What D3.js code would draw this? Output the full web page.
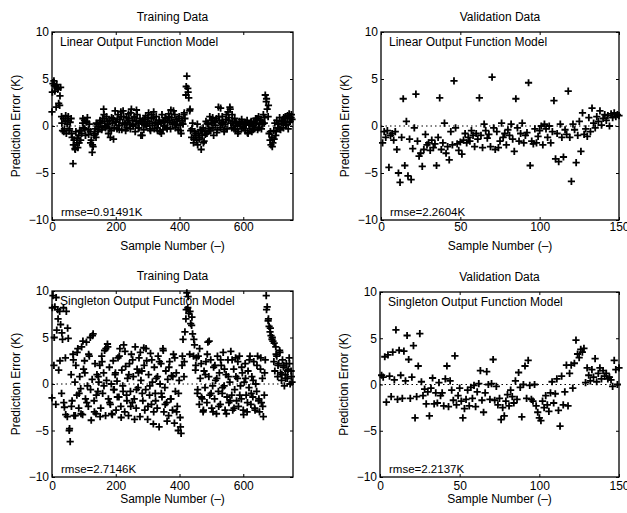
<!DOCTYPE html>
<html>
<head>
<meta charset="utf-8">
<script src="https://cdn.jsdelivr.net/npm/d3@7"></script>
<style>
  html, body { margin: 0; padding: 0; background: #fff; }
  svg text { font-family: "Liberation Sans", Arial, Helvetica, sans-serif; fill: #000; }
</style>
</head>
<body>
<svg id="chart" width="627" height="513"></svg>
<script>
// ---------------- data ----------------
const yTicks = [-10, -5, 0, 5, 10];
const trainXTicks = [0, 200, 400, 600];
const validXTicks = [0, 50, 100, 150];
const trainXMax = 756;
const validXMax = 150;

const titles = ["Training Data", "Validation Data", "Training Data", "Validation Data"];
const modelNames = ["Linear Output Function Model", "Linear Output Function Model",
                    "Singleton Output Function Model", "Singleton Output Function Model"];
const rmseLabels = ["rmse=0.91491K", "rmse=2.2604K", "rmse=2.7146K", "rmse=2.2137K"];

// Linear model, training data: samples 0,3,6,...
const trainLinearErr = [
  1.5, 4.5, 4.8, 3.7, 4.2, 4.4, 3.9, 2.4, 2.2, 4.1, 1.0, -0.5,
  0.8, -0.3, 0.5, -0.8, 0.2, 1.0, -0.5, 0.4, 0.8,
  -1.2, -4.0, -1.5, -2.4, -0.6, -1.8, -2.3, -1.0, -0.5, -1.5,
  -0.8, 0.3, -0.2, 0.6, -1.0, 0.5, 0.9, -0.4, 0.2, -0.6,
  -1.5, -2.8, -2.2, -1.0, -0.3, -1.2, 0.2, -0.6, -0.1, 0.4,
  0.3, -0.4, 0.8, 1.8, 0.5, -0.2, 1.0, 0.2, -0.8, 0.6,
  -1.2, -0.5, 0.3, 0.8, -0.2, 1.6, 0.5, -0.3, 1.2, 0.1,
  0.7, 1.5, -0.4, 0.3, 1.0, 0.2, -0.5, 0.9, 0.4, 1.3,
  0.2, -0.3, 1.8, 0.6, 0.0, 0.9, -0.6, 0.5, 1.2, 0.3,
  -0.2, 0.8, -1.0, 0.3, 0.6, -0.4, 0.2, 1.1, 0.0, 0.5,
  1.4, 0.3, -0.5, 0.8, 0.1, 0.9, -0.3, 0.4, 1.0, -0.2,
  0.2, 0.6, -0.6, 0.3, 1.2, -0.4, 0.5, 0.0, 0.8, -0.2,
  0.4, 1.3, 0.6, -0.3, 0.9, 0.2, 1.6, 0.3, -0.2, 0.7,
  0.5, -0.4, 1.0, 0.1, -0.8, 0.6, 0.2, 1.2, 0.8, 3.3,
  5.3, 4.0, 3.0, 1.6, -0.5, -1.2, 0.3, -1.8, -0.6, -1.0,
  -1.5, 0.2, -0.8, -1.4, -0.4, -2.5, -1.0, -0.2, -1.6, -0.6,
  0.5, -0.8, 0.2, -0.3, 1.0, -0.5, 0.3, 0.9, -1.0, 0.4,
  0.1, 0.8, -0.4, 2.0, 0.6, -0.2, 0.3, 1.0, 0.4, -0.6,
  0.2, 0.7, -0.3, 1.5, 0.9, 2.0, 0.3, -0.2, 0.5, 0.1,
  0.8, -0.4, 0.3, 0.0, -0.6, 0.5, 0.2, -0.3, 0.4, -0.1,
  0.3, -0.5, 0.1, 0.6, -0.8, 0.2, -0.3, 0.4, -0.6, 0.0,
  0.5, -0.2, 0.8, 0.3, -0.4, 1.0, 0.2, 0.6, -0.3, 0.4,
  1.2, 0.3, 3.3, 2.6, 1.8, 1.0, -0.8, -1.5, -2.0, -1.2,
  -1.8, -0.5, 0.3, -1.0, 0.6, -0.2, 0.2, 0.9, -0.4, 0.3,
  0.6, -0.2, 0.4, 1.0, 0.2, 0.8, -0.3, 1.3, 0.5, 0.9, 0.7
];
// Linear model, training data: samples 1,7,13,...
const trainLinearErrB = [
  3.6, 4.3, 2.0, 4.0, 3.2, 0.3, -0.6, 1.1, 0.6, -0.3,
  -0.8, -2.0, -2.5, -1.3, -1.8, -0.5, 0.8, -0.3, 0.4, -0.9,
  -1.8, -2.0, -0.8, 0.3, -0.4, 0.6, -0.2, 1.2, 0.0, 0.5,
  -0.3, 0.9, -1.4, 0.4, 0.7, -0.4, 1.0, 1.6, 0.3, -0.2,
  0.8, 1.4, 0.2, 1.0, 1.7, -0.2, 0.5, -1.0, 0.7, 0.1,
  0.9, -0.3, 1.2, 1.5, 0.3, -0.5, 0.6, -0.8, 0.4, 0.9,
  -0.3, 1.0, 1.7, 0.4, 1.2, 0.2, 0.8, -0.5, 0.3, 1.4,
  4.2, 3.6, 1.8, -0.3, -1.4, -0.8, -2.0, -1.2, -0.5, -1.8,
  -0.9, 0.3, -0.5, 0.6, -0.2, 0.5, -0.7, 1.0, 1.9, 0.2,
  -0.4, 1.2, 0.6, 1.8, 1.2, -0.3, 0.4, -0.8, 0.2, 0.7,
  -0.2, 0.4, -0.7, 0.1, 0.5, -0.4, 0.3, 0.8, -0.2, 0.6,
  0.2, 0.9, 2.9, 2.2, -0.6, -2.2, -1.4, -0.6, 0.2, -0.3,
  0.5, 0.9, 0.1, 1.1, 0.4, 1.2
];

// Singleton model, training data: samples 0,3,6,...
const trainSingletonErr = [
  -1.5, 9.5, 2.0, 8.3, -2.2, 5.8, 8.0, 1.5, 7.8, 6.4,
  -1.0, 4.8, 8.2, -2.5, 2.8, 7.8, -3.5, 4.9, -5.0, -6.2,
  1.0, -1.8, 3.2, -3.4, 0.2, 2.0, -1.2, 3.8, -2.6, 0.8,
  -0.5, 4.0, -3.3, 1.6, 2.5, -1.6, 4.5, -0.2, -2.4, 3.0,
  5.0, -3.9, 0.5, 5.4, -1.8, 2.2, -3.2, 1.0, -0.8, 0.2,
  2.0, -2.6, 3.0, -1.0, 1.2, 3.6, -3.4, 0.4, 4.3, -1.6,
  1.8, -2.2, 0.0, -3.3, 2.5, -0.6, 1.0, -2.8, 0.3, 2.8,
  -1.4, 3.8, -2.4, 1.5, -0.2, 4.2, -3.0, 1.9, -1.2, 0.6,
  -3.4, 2.2, -0.8, 3.2, -2.0, 0.8, -1.6, 4.0, -2.6, 1.6,
  -0.4, 2.8, -3.5, 0.4, 1.4, -1.8, 3.9, -2.8, -0.6, 2.5,
  -3.8, 1.0, -1.2, 3.3, -2.2, 0.2, -4.3, 1.8, -1.0, 0.6,
  -2.6, 3.0, -4.6, 0.0, 2.2, -1.4, 3.8, -3.0, -0.4, 1.4,
  -2.0, 0.5, -3.4, 2.4, -1.6, 0.9, -2.8, 3.2, -4.2, -0.8,
  1.2, -2.4, -5.0, 0.4, -3.6, -5.3, 2.0, 4.8, 0.8, 5.6,
  7.0, 9.8, 8.2, 7.6, 3.2, 6.5, 6.3, 5.4, 3.0, 4.2,
  1.5, 2.8, -1.0, 3.0, -2.2, 0.6, 2.2, -1.6, -3.0, 1.4,
  -0.4, 2.4, -2.0, 4.5, 0.8, -1.2, 2.6, -2.6, -0.2, 1.8,
  -1.6, 0.4, -3.2, 3.0, -0.8, 1.2, -2.2, 2.0, -1.0, 3.4,
  -0.2, -2.8, 1.0, -1.4, 2.6, -2.0, 0.2, 3.5, -1.2, -2.8,
  1.6, -0.6, 2.8, -1.8, 0.6, -2.4, 3.0, -0.2, -1.6, 1.2,
  -2.8, 0.2, 2.2, -1.2, -3.0, 1.4, -0.4, 3.0, -2.2, 0.8,
  -1.4, 2.4, -2.6, 0.0, -0.8, 3.0, -1.8, -3.0, 1.6, -2.0,
  0.6, -3.5, -1.2, 2.6, 9.5, 8.3, 6.8, 6.2, 5.6, 5.2,
  4.8, 4.6, 2.4, 1.4, 4.0, 3.0, 0.8, 2.2, 3.6, 1.2,
  0.4, 2.6, 1.8, -0.2, 1.0, 2.2, 0.6, 1.6, 2.8, 0.0, 1.4, 0.2
];
// Singleton model, training data: samples 1,7,13,...
const trainSingletonErrB = [
  8.2, 5.0, 9.3, 7.0, 2.5, 5.5, -2.0, -3.3, 6.0, -4.8,
  -2.4, 2.6, -3.4, 3.4, -1.0, -3.2, 4.6, 1.2, -2.0, 3.2,
  -0.6, 5.2, -3.0, -1.2, 0.8, -3.5, 2.4, -0.2, 3.8, 4.0,
  -2.0, -3.2, -0.6, 1.2, -1.4, 3.0, -3.6, -0.8, 3.5, -1.8,
  1.0, -2.4, 2.6, -3.8, -0.6, 1.2, 3.4, -1.0, 2.0, 3.8,
  -2.4, -0.2, 2.6, -3.0, -1.8, 0.8, 2.4, -1.0, 3.6, -2.2,
  -4.0, 1.8, -1.6, 0.8, 2.8, -3.0, -1.0, -4.6, 3.0, 2.4,
  8.0, 9.4, 7.8, 7.2, 4.8, 2.0, -0.6, 3.8, -1.4, -2.8,
  1.0, 3.2, 4.6, -1.0, -3.0, 2.0, 0.6, -2.4, 2.6, -0.4,
  1.6, -3.2, 0.8, -1.8, 2.6, -2.6, 0.8, 2.4, -1.2, 1.8,
  -3.3, 0.6, -2.0, 2.6, -1.0, 0.4, -2.8, 2.0, -1.6, 2.8,
  -2.4, 1.2, 8.0, 7.0, 6.0, 5.0, 4.4, 3.2, 2.0, 3.4,
  1.0, 2.0, 0.6, 1.4, 2.2, 0.8
];

// Linear model, validation data: samples 1..150
const validLinearErr = [
  -1.8, -0.6, -1.2, -0.5, -4.4, -1.0, -0.8, -1.5, -0.6, -2.5,
  -5.0, -6.0, -1.2, 2.9, -4.2, 0.5, -5.3, -1.4, -5.7, -2.4,
  -0.2, 3.4, -1.6, -3.2, -2.9, -4.3, -2.5, -0.9, -2.0, -1.8,
  -2.6, -1.5, -2.3, -1.9, -4.2, -1.2, 3.0, -2.5, -1.8, 0.3,
  -2.9, -2.2, -3.6, -0.6, -2.0, 4.8, -0.2, -1.9, -2.6, -1.7,
  -3.0, -1.5, -0.8, -1.8, -1.2, -1.6, -0.5, -1.0, -2.2, -0.8,
  -1.4, 3.0, -1.0, -2.3, 0.2, -0.5, -1.3, -0.9, -2.2, 5.2,
  -0.2, -2.5, -0.6, -2.3, -1.6, 0.3, -1.2, -0.8, -2.0, -0.4,
  -1.0, 0.2, -1.4, -2.7, 2.9, -0.2, -1.6, -0.8, 0.3, -1.8,
  -1.0, -0.7, 4.6, -4.2, -1.6, -1.9, -0.3, -1.8, -1.1, -0.5,
  0.0, -2.0, 0.2, -0.3, -1.2, 0.0, -1.8, -0.6, 2.7, -3.5,
  -0.8, -3.8, 0.2, -1.2, -3.3, -0.4, -0.9, 3.7, -1.2, -5.9,
  0.2, -0.4, -3.9, -1.0, 0.5, -2.7, 1.4, -0.9, -0.3, -1.1,
  0.9, -0.6, 1.9, 0.3, -0.2, 1.0, 0.5, 1.6, 0.1, 0.8,
  1.2, 0.6, 1.1, 0.0, 1.3, 0.9, 1.4, 1.0, 1.2, 1.1
];

// Singleton model, validation data: samples 1..150
const validSingletonErr = [
  1.0, 0.8, 3.0, -1.9, 3.2, 0.9, -1.3, 3.5, 0.5, 5.9,
  -1.6, 3.7, 1.0, -1.5, 3.6, 0.4, 5.3, 2.7, -1.5, 0.8,
  4.2, -3.6, -1.3, 2.0, 5.5, 0.3, -1.2, -0.5, -2.1, -0.8,
  -3.4, -0.4, 0.7, -2.1, -0.9, -2.0, 0.2, -1.2, -0.9, -2.3,
  0.6, 2.0, -2.4, 0.4, -0.6, -1.7, 3.1, -2.2, -1.2, -0.4,
  -1.8, -3.6, -2.6, -1.6, -0.6, -2.3, -0.3, -1.5, -0.1, -2.4,
  -0.8, 0.1, 1.5, -1.7, -3.0, -0.9, 1.4, 0.0, -1.6, 0.1,
  2.7, -1.7, -0.2, -2.2, -1.5, -3.8, -2.5, -3.4, -1.8, -1.1,
  -2.3, -0.6, -1.3, -2.0, 0.4, -1.6, 1.3, -0.3, -3.5, 0.0,
  2.0, -1.5, 2.6, -0.1, -1.6, -1.8, 0.0, -2.3, -3.0, -3.6,
  -3.9, -1.8, -2.5, -1.2, -2.2, -2.9, -0.9, 0.3, -2.0, -1.0,
  0.6, -2.8, -4.5, 0.9, -2.2, -0.8, 2.1, -2.3, 1.2, 2.1,
  -0.4, 2.3, 4.8, 3.3, 2.9, 3.8, 3.5, 3.9, 0.2, 1.8,
  1.0, 0.4, 1.6, 0.8, 2.8, 0.3, 1.2, 1.8, 0.6, 1.5,
  0.9, 1.2, 0.6, 0.8, 0.5, -0.2, 2.6, 1.6, 0.0, 1.8
];

// ---------------- drawing ----------------
const svg = d3.select("#chart");
const FONT = 12;

function toPoints(values, firstSample, step) {
  return values.map((v, i) => ({ s: firstSample + i * step, e: v }));
}

const panels = [
  { box: {l: 52, r: 293, t: 32, b: 220}, xMax: trainXMax, xTicks: trainXTicks,
    pts: toPoints(trainLinearErr, 0, 3).concat(toPoints(trainLinearErrB, 1, 6)), row: 0 },
  { box: {l: 381, r: 619, t: 32, b: 220}, xMax: validXMax, xTicks: validXTicks,
    pts: toPoints(validLinearErr, 1, 1), row: 0 },
  { box: {l: 52, r: 293, t: 291, b: 477}, xMax: trainXMax, xTicks: trainXTicks,
    pts: toPoints(trainSingletonErr, 0, 3).concat(toPoints(trainSingletonErrB, 1, 6)), row: 1 },
  { box: {l: 380, r: 619, t: 292, b: 477}, xMax: validXMax, xTicks: validXTicks,
    pts: toPoints(validSingletonErr, 1, 1), row: 1 }
];

const rowCfg = [
  { xPad: 2.5, xLabelDy: 30 },
  { xPad: 4, xLabelDy: 26 }
];

const plus = "M-3.6,0H3.6M0,-3.6V3.6";

panels.forEach((p, k) => {
  const w = p.box.r - p.box.l, h = p.box.b - p.box.t;
  const g = svg.append("g").attr("transform", `translate(${p.box.l},${p.box.t})`);
  const x = d3.scaleLinear().domain([0, p.xMax]).range([0, w]);
  const y = d3.scaleLinear().domain([-10, 10]).range([h, 0]);
  const rc = rowCfg[p.row];

  // dotted zero line
  g.append("line")
    .attr("x1", 0).attr("x2", w)
    .attr("y1", y(0)).attr("y2", y(0))
    .attr("stroke", "#000").attr("stroke-width", 1)
    .attr("stroke-dasharray", "1.5,3");

  // points
  g.append("g").selectAll("path")
    .data(p.pts)
    .join("path")
    .attr("d", plus)
    .attr("transform", d => `translate(${x(d.s)},${y(d.e)})`)
    .attr("stroke", "#000")
    .attr("stroke-width", 1.8)
    .attr("fill", "none");

  // frame
  g.append("rect").attr("x", 0).attr("y", 0).attr("width", w).attr("height", h)
    .attr("fill", "none").attr("stroke", "#000").attr("stroke-width", 1.3);

  const fmt = d3.format("d");
  const styleAxis = sel => {
    sel.select(".domain").remove();
    sel.selectAll(".tick line").attr("stroke", "#000").attr("stroke-width", 1);
    sel.selectAll(".tick text").attr("font-size", FONT).attr("fill", "#000")
      .attr("font-family", '"Liberation Sans", Arial, sans-serif');
  };

  g.append("g").attr("transform", `translate(0,${h})`)
    .call(d3.axisBottom(x).tickValues(p.xTicks).tickFormat(fmt).tickSize(-3).tickPadding(rc.xPad))
    .call(styleAxis);
  g.append("g")
    .call(d3.axisTop(x).tickValues(p.xTicks).tickFormat("").tickSize(-3))
    .call(styleAxis);
  g.append("g")
    .call(d3.axisLeft(y).tickValues(yTicks).tickFormat(fmt).tickSize(-3).tickPadding(3))
    .call(styleAxis);
  g.append("g").attr("transform", `translate(${w},0)`)
    .call(d3.axisRight(y).tickValues(yTicks).tickFormat("").tickSize(-3))
    .call(styleAxis);

  // title
  g.append("text").attr("x", w / 2).attr("y", -11)
    .attr("text-anchor", "middle").attr("font-size", FONT).text(titles[k]);
  // model annotation
  g.append("text").attr("x", 8).attr("y", 14)
    .attr("font-size", FONT).text(modelNames[k]);
  // rmse annotation
  g.append("text").attr("x", 9).attr("y", h - 4)
    .attr("font-size", 11.5).text(rmseLabels[k]);
  // x label
  g.append("text").attr("x", w / 2).attr("y", h + rc.xLabelDy)
    .attr("text-anchor", "middle").attr("font-size", FONT).text("Sample Number (\u2013)");
  // y label
  g.append("text")
    .attr("transform", `translate(-32.5,${h / 2}) rotate(-90)`)
    .attr("text-anchor", "middle").attr("font-size", FONT).text("Prediction Error (K)");
});
</script>
</body>
</html>
